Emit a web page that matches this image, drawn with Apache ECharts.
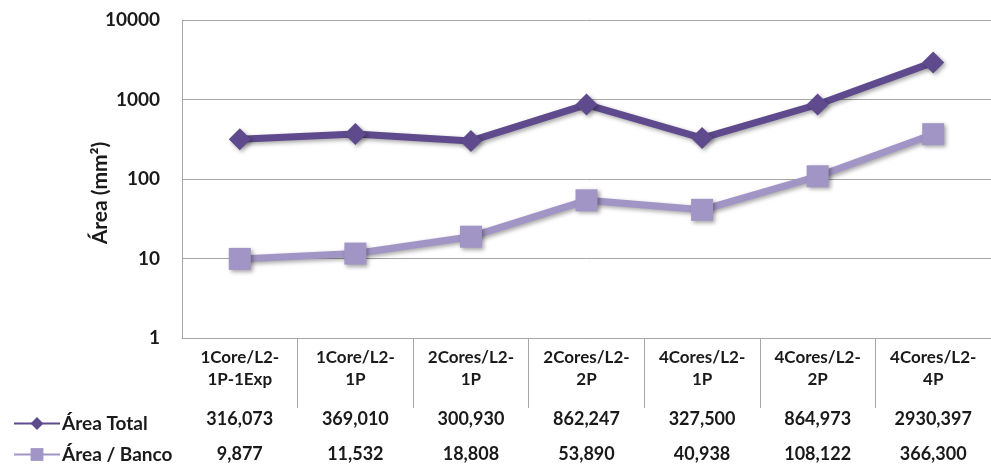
<!DOCTYPE html>
<html>
<head>
<meta charset="utf-8">
<script src="https://cdn.jsdelivr.net/npm/echarts@6/dist/echarts.min.js"></script>
<style>
html,body{margin:0;padding:0;background:#fff;}
#chart{width:991px;height:472px;}
</style>
</head>
<body>
<div id="chart"></div>
<script>
var categories = ['1Core/L2-\n1P-1Exp', '1Core/L2-\n1P', '2Cores/L2-\n1P', '2Cores/L2-\n2P', '4Cores/L2-\n1P', '4Cores/L2-\n2P', '4Cores/L2-\n4P'];
var seriesNames = ['Área Total', 'Área / Banco'];
var areaTotal = [316.073, 369.010, 300.930, 862.247, 327.500, 864.973, 2930.397];
var areaBanco = [9.877, 11.532, 18.808, 53.890, 40.938, 108.122, 366.300];
var yTicks = [1, 10, 100, 1000, 10000];
var tableBoundaries = [1, 2, 3, 4, 5, 6];

var FONT = 'Lato';
var GRID = '#a6a6a6';
var TXT = '#1a1a1a';
var C1 = '#5e4a8c';
var C2 = '#a195c6';
function fmt(v){ return v.toFixed(3).replace('.', ','); }

var shadow = {shadowBlur: 4, shadowColor: 'rgba(0,0,0,0.35)', shadowOffsetX: 2, shadowOffsetY: 2};

var chart = echarts.init(document.getElementById('chart'));
chart.setOption({
  animation: false,
  backgroundColor: '#fff',
  grid: {left: 182, right: 0, top: 20, bottom: 134},
  legend: {
    orient: 'vertical', left: 8, top: 409, itemGap: 12,
    itemWidth: 46, itemHeight: 16,
    textStyle: {fontFamily: FONT, fontWeight: 'bold', fontSize: 19, color: TXT, padding: [0,0,0,-3]},
    data: seriesNames
  },
  xAxis: [{
    type: 'category', data: categories, position: 'bottom', boundaryGap: true,
    axisLine: {show: true, lineStyle: {color: GRID, width: 1}},
    axisTick: {show: false},
    axisLabel: {fontFamily: FONT, fontWeight: 'bold', fontSize: 17, color: TXT, lineHeight: 22, margin: 9, interval: 0}
  }, {
    type: 'category', data: categories, position: 'bottom', offset: 72,
    axisLine: {show: false}, axisTick: {show: false},
    axisLabel: {interval: 0, margin: 0, fontFamily: FONT, fontWeight: 'bold', fontSize: 18, color: TXT,
      formatter: function(v, i){ return fmt(areaTotal[i]); }}
  }, {
    type: 'category', data: categories, position: 'bottom', offset: 107,
    axisLine: {show: false}, axisTick: {show: false},
    axisLabel: {interval: 0, margin: 0, fontFamily: FONT, fontWeight: 'bold', fontSize: 18, color: TXT,
      formatter: function(v, i){ return fmt(areaBanco[i]); }}
  }, {
    type: 'value', min: 0, max: categories.length, position: 'bottom',
    axisLine: {show: false},
    axisTick: {show: true, length: 70, customValues: tableBoundaries, lineStyle: {color: GRID}},
    axisLabel: {show: false},
    splitLine: {show: false}
  }],
  yAxis: {
    type: 'log', logBase: 10, min: yTicks[0], max: yTicks[yTicks.length - 1],
    name: 'Área (mm²)', nameLocation: 'middle', nameGap: 71, nameRotate: 90, nameMoveOverlap: false,
    nameTextStyle: {fontFamily: FONT, fontWeight: 'bold', fontSize: 21, color: TXT, padding: [0, 28, 0, 0]},
    axisLine: {show: true, lineStyle: {color: GRID}},
    axisTick: {show: false},
    axisLabel: {fontFamily: FONT, fontWeight: 'bold', fontSize: 19, color: TXT, margin: 22,
      formatter: function(v){ return String(Math.round(v)); }},
    splitLine: {show: true, lineStyle: {color: GRID, width: 1}}
  },
  series: [{
    name: seriesNames[0], type: 'line', data: areaTotal,
    symbol: 'diamond', symbolSize: 22,
    lineStyle: Object.assign({color: C1, width: 7}, shadow),
    itemStyle: Object.assign({color: C1}, shadow)
  }, {
    name: seriesNames[1], type: 'line', data: areaBanco,
    symbol: 'rect', symbolSize: 22,
    lineStyle: Object.assign({color: C2, width: 7}, shadow),
    itemStyle: Object.assign({color: C2}, shadow)
  }]
});
</script>
</body>
</html>
